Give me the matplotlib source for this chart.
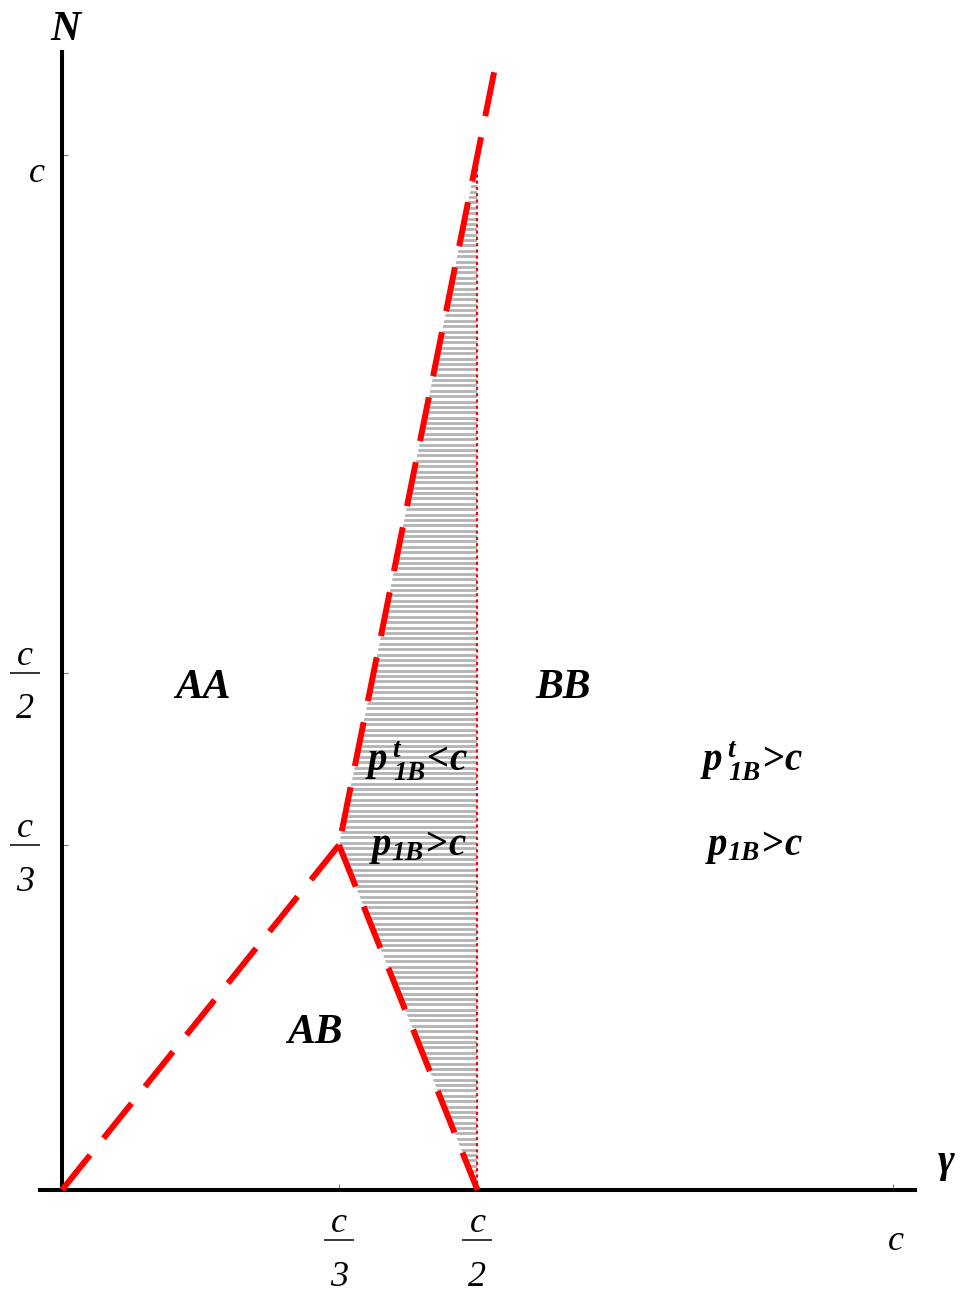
"""Equilibrium regions in the (gamma, N) plane, with the shaded strip where p_1B > c."""

import matplotlib

matplotlib.use("Agg")
import matplotlib.pyplot as plt
import numpy as np
from matplotlib.patches import Polygon
from matplotlib.transforms import offset_copy

# --- data (all in units of c) ---------------------------------------------
AB_LEFT_GAMMA = [0.0, 1 / 3]
AB_LEFT_N = [0.0, 1 / 3]
AB_RIGHT_GAMMA = [1 / 3, 1 / 2]
AB_RIGHT_N = [1 / 3, 0.0]
UPPER_GAMMA = [0.52, 1 / 3]
UPPER_N = [1.08, 1 / 3]
SPLIT_GAMMA = [0.5, 0.5]
SPLIT_N = [0.0, 1.0]
SHADE_VERTS = [(1 / 3, 1 / 3), (1 / 2, 1.0), (1 / 2, 0.0)]

X_TICKS = [1 / 3, 1 / 2, 1.0]
X_TICK_DENOMS = ["3", "2", None]
Y_TICKS = [1 / 3, 1 / 2, 1.0]
Y_TICK_DENOMS = ["3", "2", None]

REGION_LABELS = ["AA", "BB", "AB"]
REGION_POS = [(0.1697, 0.4754), (0.6029, 0.4754), (0.3045, 0.142)]
PRICE_LABELS = [
    r"$p^{\,t}_{\;1B}\!<\!c$",
    r"$p_{1B}\!>\!c$",
    r"$p^{\,t}_{\;1B}\!>\!c$",
    r"$p_{1B}\!>\!c$",
]
PRICE_POS = [(0.3646, 0.4039), (0.370, 0.3237), (0.7677, 0.4039), (0.7738, 0.3237)]

_RED = "#ff0000"
_SERIF = "Liberation Serif"

plt.rcParams.update(
    {
        "font.family": _SERIF,
        "mathtext.fontset": "custom",
        "mathtext.it": "Liberation Serif:italic:bold",
        "mathtext.rm": "Liberation Serif:italic:bold",
        "mathtext.bf": "Liberation Serif:italic:bold",
    }
)

fig = plt.figure(figsize=(9.71, 12.94), dpi=100)
fig.patch.set_facecolor("white")
ax = fig.add_axes([0, 0, 1, 1])
ax.set_xlim(-0.0746, 1.0939)
ax.set_ylim(-0.1005, 1.1498)

# axes as spines crossing at the origin
for side in ("top", "right"):
    ax.spines[side].set_visible(False)
for side in ("left", "bottom"):
    ax.spines[side].set_position(("data", 0))
    ax.spines[side].set_linewidth(2.9)
    ax.spines[side].set_color("black")
ax.spines["left"].set_bounds(0, 1.0995)
ax.spines["bottom"].set_bounds(-0.0265, 1.0265)
ax.set_xticks(X_TICKS)
ax.set_yticks(Y_TICKS)
ax.set_xticklabels([])
ax.set_yticklabels([])
ax.tick_params(direction="in", length=4, width=0.8, color="#777777")

# shaded strip: horizontal gray rules clipped to the triangle
shade = Polygon(SHADE_VERTS, closed=True, facecolor="none", edgecolor="none")
ax.add_patch(shade)
rules = ax.hlines(
    np.arange(0.0026, 1.0, 0.0052),
    SHADE_VERTS[0][0],
    SHADE_VERTS[1][0],
    colors="#b3b3b3",
    linewidth=2.0,
    zorder=1,
)
rules.set_clip_path(shade)

dash = (7.5, 3.6)
for gx, ny in ((AB_LEFT_GAMMA, AB_LEFT_N), (AB_RIGHT_GAMMA, AB_RIGHT_N), (UPPER_GAMMA, UPPER_N)):
    ax.plot(gx, ny, color=_RED, linewidth=4.3, dashes=dash, dash_capstyle="butt", zorder=3)
ax.plot(SPLIT_GAMMA, SPLIT_N, color=_RED, linewidth=1.5, linestyle=(0, (1.5, 1.5)), zorder=2)


def _frac_label(x, y, denom):
    """Stack an italic c over a short rule over the denominator, rule at (x, y)."""
    num_tr = offset_copy(ax.transData, fig=fig, x=0, y=5.5, units="points")
    ax.text(x, y, "c", transform=num_tr, ha="center", va="baseline",
            fontsize=26, fontstyle="italic")
    den_tr = offset_copy(ax.transData, fig=fig, x=0, y=-33, units="points")
    ax.text(x, y, denom, transform=den_tr, ha="center", va="baseline",
            fontsize=26, fontstyle="italic")
    ax.plot([x], [y], marker="_", markersize=21, markeredgewidth=1.1,
            color="black", clip_on=False)


for tick, denom in zip(X_TICKS, X_TICK_DENOMS):
    if denom is None:
        ax.text(tick + 0.0036, -0.058, "c", ha="center", va="baseline",
                fontsize=26, fontstyle="italic")
    else:
        _frac_label(tick, -0.0483, denom)
for tick, denom in zip(Y_TICKS, Y_TICK_DENOMS):
    if denom is None:
        ax.text(-0.030, tick - 0.026, "c", ha="center", va="baseline",
                fontsize=26, fontstyle="italic")
    else:
        _frac_label(-0.0445, tick, denom)

ax.text(0.0036, 1.111, "N", ha="center", va="baseline", fontsize=30,
        fontstyle="italic", fontweight="bold")
ax.text(1.064, 0.017, "γ", ha="center", va="baseline", fontsize=29,
        fontstyle="italic", fontweight="bold")

for label, (x, y) in zip(REGION_LABELS, REGION_POS):
    ax.text(x, y, label, ha="center", va="baseline", fontsize=30,
            fontstyle="italic", fontweight="bold")
for label, (x, y) in zip(PRICE_LABELS, PRICE_POS):
    ax.text(x, y, label, ha="left", va="baseline", fontsize=28, zorder=4)

fig.savefig("out.png", dpi=100, facecolor=fig.get_facecolor())
